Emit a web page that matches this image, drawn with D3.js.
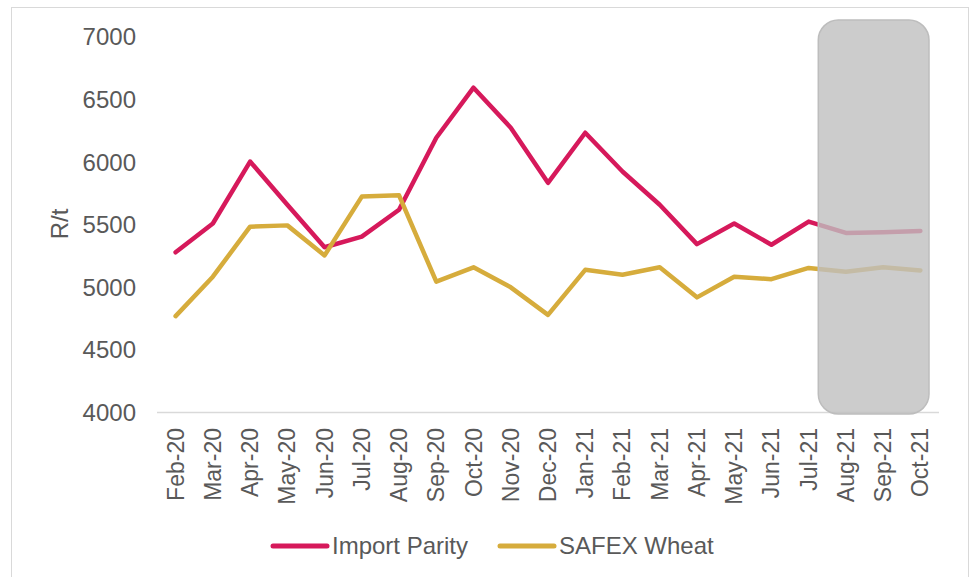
<!DOCTYPE html>
<html>
<head>
<meta charset="utf-8">
<script src="https://cdn.jsdelivr.net/npm/d3@7"></script>
<style>
  body { margin: 0; background: #fff; }
  text { font-family: "Liberation Sans", Arial, sans-serif; fill: #595959; }
</style>
</head>
<body>
<div id="chart"></div>
<script>
// Data
const months = ["Feb-20", "Mar-20", "Apr-20", "May-20", "Jun-20", "Jul-20", "Aug-20",
  "Sep-20", "Oct-20", "Nov-20", "Dec-20", "Jan-21", "Feb-21", "Mar-21", "Apr-21",
  "May-21", "Jun-21", "Jul-21", "Aug-21", "Sep-21", "Oct-21"];
const importParity = [5280, 5510, 6005, 5660, 5320, 5405, 5620, 6195, 6595, 6275, 5835,
  6235, 5925, 5660, 5345, 5510, 5340, 5525, 5435, 5440, 5450];
const safexWheat = [4770, 5085, 5485, 5495, 5255, 5725, 5735, 5045, 5160, 5000, 4780,
  5140, 5100, 5160, 4920, 5085, 5065, 5155, 5125, 5160, 5135];
const yTicks = [4000, 4500, 5000, 5500, 6000, 6500, 7000];
const forecastMonths = ["Aug-21", "Oct-21"];

const series = [
  { name: "Import Parity", values: importParity, color: "#d6195b" },
  { name: "SAFEX Wheat", values: safexWheat, color: "#d6ac3c" }
];

const width = 971, height = 577;
const plot = { left: 157, right: 939, top: 37, bottom: 412.5 };

const svg = d3.select("#chart").append("svg")
  .attr("width", width)
  .attr("height", height);

// outer frame
svg.append("rect")
  .attr("x", 11.5).attr("y", 7.5)
  .attr("width", 957).attr("height", 580)
  .attr("fill", "none")
  .attr("stroke", "#d9d9d9");

const x = d3.scaleBand()
  .domain(months)
  .range([plot.left, plot.right]);

const y = d3.scaleLinear()
  .domain([4000, 7000])
  .range([plot.bottom, plot.top]);

const cx = d => x(d) + x.bandwidth() / 2;

// y tick labels
svg.append("g")
  .selectAll("text")
  .data(yTicks)
  .join("text")
  .attr("x", 136)
  .attr("y", d => y(d))
  .attr("dy", "0.35em")
  .attr("text-anchor", "end")
  .style("font-size", "24px")
  .text(d => d);

// y axis title
svg.append("text")
  .attr("transform", "translate(68,224) rotate(-90)")
  .attr("text-anchor", "middle")
  .style("font-size", "24px")
  .text("R/t");

// x axis line
svg.append("line")
  .attr("x1", plot.left).attr("x2", plot.right)
  .attr("y1", plot.bottom).attr("y2", plot.bottom)
  .attr("stroke", "#d9d9d9")
  .attr("stroke-width", 1.5);

// x tick labels
svg.append("g")
  .selectAll("text")
  .data(months)
  .join("text")
  .attr("transform", d => `translate(${cx(d) + 8},428) rotate(-90)`)
  .attr("text-anchor", "end")
  .style("font-size", "23px")
  .text(d => d);

// lines
const line = d3.line()
  .x((d, i) => cx(months[i]))
  .y(d => y(d));

svg.append("g")
  .selectAll("path")
  .data(series)
  .join("path")
  .attr("d", d => line(d.values))
  .attr("fill", "none")
  .attr("stroke", d => d.color)
  .attr("stroke-width", 4.5)
  .attr("stroke-linejoin", "round")
  .attr("stroke-linecap", "round");

// forecast shading box
const boxX0 = x(forecastMonths[0]) - 9;
const boxX1 = x(forecastMonths[1]) + x.bandwidth() - 10;
svg.append("rect")
  .attr("x", boxX0)
  .attr("y", 20)
  .attr("width", boxX1 - boxX0)
  .attr("height", 394)
  .attr("rx", 20)
  .attr("fill", "#bfbfbf")
  .attr("fill-opacity", 0.8)
  .attr("stroke", "#bdbdbd")
  .attr("stroke-width", 1.5);

// legend
const legendX = [273, 500];
const legend = svg.append("g")
  .selectAll("g")
  .data(series)
  .join("g")
  .attr("transform", (d, i) => `translate(${legendX[i]},546)`);

legend.append("line")
  .attr("x1", 0).attr("x2", 54)
  .attr("stroke", d => d.color)
  .attr("stroke-width", 5)
  .attr("stroke-linecap", "round");

legend.append("text")
  .attr("x", 59)
  .attr("dy", "0.35em")
  .style("font-size", "24px")
  .text(d => d.name);
</script>
</body>
</html>
